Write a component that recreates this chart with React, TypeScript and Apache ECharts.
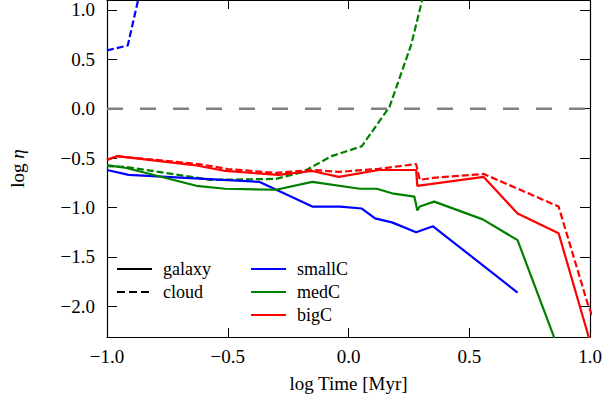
import React, { useEffect, useRef } from "react";
import * as echarts from "echarts";

const xTicks = [-1.0, -0.5, 0.0, 0.5, 1.0];
const yTicks = [-2.0, -1.5, -1.0, -0.5, 0.0, 0.5, 1.0];

const smallGalaxy: [number, number][] = [
  [-1.0, -0.62], [-0.91, -0.67], [-0.37, -0.74], [-0.15, -0.99], [-0.035, -0.99],
  [0.055, -1.01], [0.11, -1.11], [0.18, -1.15], [0.28, -1.25], [0.35, -1.19], [0.70, -1.86],
];
const smallCloud: [number, number][] = [
  [-1.0, 0.59], [-0.914, 0.64], [-0.86, 1.22], [-0.84, 1.5],
];
const medGalaxy: [number, number][] = [
  [-1.0, -0.57], [-0.92, -0.60], [-0.63, -0.78], [-0.51, -0.81], [-0.30, -0.82],
  [-0.15, -0.74], [0.047, -0.81], [0.117, -0.81], [0.187, -0.86], [0.273, -0.89],
  [0.285, -1.03], [0.295, -0.99], [0.355, -0.94], [0.556, -1.12], [0.70, -1.33],
  [0.848, -2.29], [0.87, -2.5],
];
const medCloud: [number, number][] = [
  [-1.0, -0.58], [-0.92, -0.59], [-0.57, -0.72], [-0.30, -0.71], [-0.19, -0.64],
  [-0.07, -0.48], [0.055, -0.38], [0.17, 0.02], [0.26, 0.65], [0.305, 1.1], [0.33, 1.6],
];
const bigGalaxy: [number, number][] = [
  [-1.0, -0.52], [-0.96, -0.48], [-0.64, -0.57], [-0.51, -0.63], [-0.29, -0.67],
  [-0.15, -0.63], [-0.04, -0.69], [0.125, -0.62], [0.28, -0.62], [0.285, -0.78],
  [0.56, -0.69], [0.70, -1.06], [0.87, -1.26], [0.99, -2.27], [1.01, -2.45],
];
const bigCloud: [number, number][] = [
  [-1.0, -0.52], [-0.96, -0.48], [-0.62, -0.56], [-0.5, -0.61], [-0.30, -0.65],
  [-0.15, -0.62], [-0.04, -0.64], [0.12, -0.61], [0.28, -0.56], [0.295, -0.72],
  [0.35, -0.70], [0.56, -0.66], [0.87, -0.99], [0.99, -1.97], [1.01, -2.1],
];
const refLine: [number, number][] = [[-1.0, 0.0], [1.0, 0.0]];

const BLUE = "#0000ff";
const GREEN = "#008000";
const RED = "#ff0000";
const FONT = "Liberation Serif";

const fmt = (v: number) => v.toFixed(1).replace("-", "\u2212");

export default function App() {
  const ref = useRef<HTMLDivElement>(null);
  useEffect(() => {
    document.body.style.margin = "0";
    if (!ref.current) return;
    const chart = echarts.init(ref.current, undefined, { renderer: "svg" });
    const axisCommon = {
      axisLine: { show: true, onZero: false, lineStyle: { color: "#000", width: 1.2 } },
      splitLine: { show: false },
    };
    const mkLine = (data: [number, number][], color: string, dashed: boolean) => ({
      type: "line",
      data,
      showSymbol: false,
      symbol: "none",
      clip: true,
      lineStyle: { color, width: 2.2, type: dashed ? [7, 3] : "solid" },
      z: 3,
    });
    const legendItems: any[] = [];
    const leftRows = [
      { label: "galaxy", dashed: false },
      { label: "cloud", dashed: true },
    ];
    leftRows.forEach((r, i) => {
      const y = 269 + i * 23;
      legendItems.push({
        type: "line",
        shape: { x1: 117, y1: y, x2: 152, y2: y },
        style: { stroke: "#000", lineWidth: 2.2, lineDash: r.dashed ? [8, 4] : null },
      });
      legendItems.push({
        type: "text",
        x: 163,
        y,
        style: { text: r.label, font: `18px '${FONT}'`, fill: "#000", verticalAlign: "middle" },
      });
    });
    const rightRows = [
      { label: "smallC", color: BLUE },
      { label: "medC", color: GREEN },
      { label: "bigC", color: RED },
    ];
    rightRows.forEach((r, i) => {
      const y = 269 + i * 23;
      legendItems.push({
        type: "line",
        shape: { x1: 251, y1: y, x2: 286, y2: y },
        style: { stroke: r.color, lineWidth: 2.2 },
      });
      legendItems.push({
        type: "text",
        x: 297,
        y,
        style: { text: r.label, font: `18px '${FONT}'`, fill: "#000", verticalAlign: "middle" },
      });
    });

    chart.setOption({
      animation: false,
      textStyle: { fontFamily: FONT },
      grid: { left: 103, right: 15, top: 0, bottom: 73, containLabel: false },
      xAxis: [
        {
          type: "value",
          min: -1.0,
          max: 1.0,
          position: "bottom",
          ...axisCommon,
          axisTick: { inside: true, length: 9, customValues: xTicks, lineStyle: { color: "#000" } },
          axisLabel: {
            customValues: xTicks,
            formatter: fmt,
            fontSize: 19,
            color: "#000",
            margin: 10,
            fontFamily: FONT,
            showMinLabel: true,
            showMaxLabel: true,
          },
          name: "log Time [Myr]",
          nameLocation: "middle",
          nameGap: 37,
          nameTextStyle: { fontSize: 19, color: "#000", fontFamily: FONT },
        },
        {
          type: "value",
          min: -1.0,
          max: 1.0,
          position: "top",
          ...axisCommon,
          axisTick: { inside: true, length: 9, customValues: xTicks, lineStyle: { color: "#000" } },
          axisLabel: { show: false },
        },
      ],
      yAxis: [
        {
          type: "value",
          min: -2.31,
          max: 1.1,
          position: "left",
          ...axisCommon,
          axisTick: { inside: true, length: 10, customValues: yTicks, lineStyle: { color: "#000" } },
          axisLabel: {
            customValues: yTicks,
            formatter: fmt,
            fontSize: 19,
            color: "#000",
            margin: 12,
            fontFamily: FONT,
          },
          name: "{a|log }{b|η}",
          nameLocation: "middle",
          nameGap: 80,
          nameRotate: 90,
          nameTextStyle: {
            color: "#000",
            rich: {
              a: { fontSize: 19, fontFamily: FONT, color: "#000" },
              b: { fontSize: 19, fontFamily: FONT, fontStyle: "italic", color: "#000" },
            },
          },
        },
        {
          type: "value",
          min: -2.31,
          max: 1.1,
          position: "right",
          ...axisCommon,
          axisTick: { inside: true, length: 10, customValues: yTicks, lineStyle: { color: "#000" } },
          axisLabel: { show: false },
        },
      ],
      series: [
        {
          type: "line",
          data: refLine,
          showSymbol: false,
          symbol: "none",
          lineStyle: { color: "#808080", width: 2.5, type: [16, 17] },
          z: 2,
        },
        mkLine(smallCloud, BLUE, true),
        mkLine(medCloud, GREEN, true),
        mkLine(bigCloud, RED, true),
        mkLine(smallGalaxy, BLUE, false),
        mkLine(medGalaxy, GREEN, false),
        mkLine(bigGalaxy, RED, false),
      ],
      graphic: legendItems,
    });
    return () => chart.dispose();
  }, []);
  return <div ref={ref} style={{ width: 605, height: 410 }} />;
}
